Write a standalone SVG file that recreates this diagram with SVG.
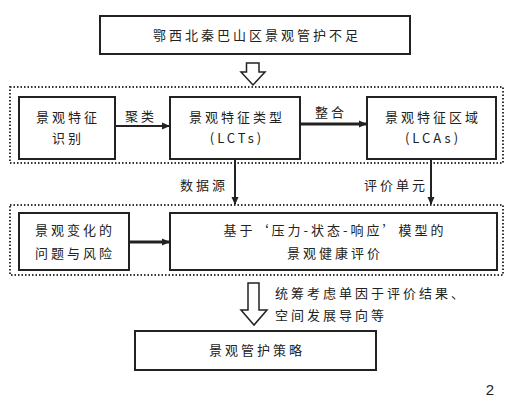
<svg xmlns="http://www.w3.org/2000/svg" width="512" height="410" viewBox="0 0 512 410">
<style>
text{font-family:"Noto Sans CJK SC","Liberation Sans",sans-serif;font-size:13px;fill:#222;letter-spacing:3px;text-anchor:middle;}
.box{fill:#fff;stroke:#222;stroke-width:2;}
.cont{fill:none;stroke:#333;stroke-width:2;stroke-dasharray:1.5 2;}
.ln{stroke:#222;fill:none;}
.hollow{fill:#fff;stroke:#222;stroke-width:1.5;}
</style>
<defs>
<marker id="ah" markerWidth="8" markerHeight="8" refX="7" refY="4" orient="auto" markerUnits="userSpaceOnUse">
<path d="M0,0.5 L8,4 L0,7.5 Z" fill="#222"/>
</marker>
</defs>
<rect width="512" height="410" fill="#fff"/>

<g id="containers">
<rect class="cont" x="10" y="87" width="493" height="76"/>
<rect class="cont" x="10" y="205" width="493" height="70"/>
</g>

<g id="n-top"><rect class="box" x="100" y="16" width="310" height="38"/><text x="257" y="40">鄂西北秦巴山区景观管护不足</text></g>
<g id="n-ident"><rect class="box" x="19" y="97" width="96" height="62"/><text x="68" y="122">景观特征</text><text x="68" y="143">识别</text></g>
<g id="n-lct"><rect class="box" x="170" y="97" width="130" height="62"/><text x="237" y="122">景观特征类型</text><text x="237" y="143">(LCTs)</text></g>
<g id="n-lca"><rect class="box" x="367" y="97" width="129" height="62" stroke-width="2.5"/><text x="433" y="122">景观特征区域</text><text x="433" y="143">(LCAs)</text></g>
<g id="n-risk"><rect class="box" x="19" y="213" width="110" height="57"/><text x="75" y="235">景观变化的</text><text x="75" y="258">问题与风险</text></g>
<g id="n-eval"><rect class="box" x="170" y="213" width="327" height="57"/><text x="335" y="235">基于‘压力-状态-响应’模型的</text><text x="335" y="258">景观健康评价</text></g>
<g id="n-strat"><rect class="box" x="135" y="331" width="241" height="39"/><text x="257" y="355">景观管护策略</text></g>

<g id="connectors">
<path class="hollow" d="M246.5,63 H259 V72 H265 L253,85 L241,72 H246.5 Z"/>
<path class="hollow" d="M248,283 H259 V310 H267 L254,325 L241,310 H248 Z"/>
<line class="ln" x1="115" y1="126" x2="169" y2="126" stroke-width="2" marker-end="url(#ah)"/>
<line class="ln" x1="300" y1="124" x2="366" y2="124" stroke-width="3" marker-end="url(#ah)"/>
<line class="ln" x1="235" y1="159" x2="235" y2="204" stroke-width="2" marker-end="url(#ah)"/>
<line class="ln" x1="431" y1="159" x2="431" y2="204" stroke-width="2" marker-end="url(#ah)"/>
<line class="ln" x1="129" y1="242" x2="169" y2="242" stroke-width="3" marker-end="url(#ah)"/>
<text x="141" y="121">聚类</text>
<text x="331" y="117">整合</text>
<text x="204" y="190">数据源</text>
<text x="396" y="190">评价单元</text>
<text x="275" y="298" style="text-anchor:start">统筹考虑单因于评价结果、</text>
<text x="275" y="320" style="text-anchor:start">空间发展导向等</text>
</g>
<text x="490" y="395" style="font-family:'Liberation Sans',sans-serif;font-size:15px;letter-spacing:0">2</text>
</svg>
